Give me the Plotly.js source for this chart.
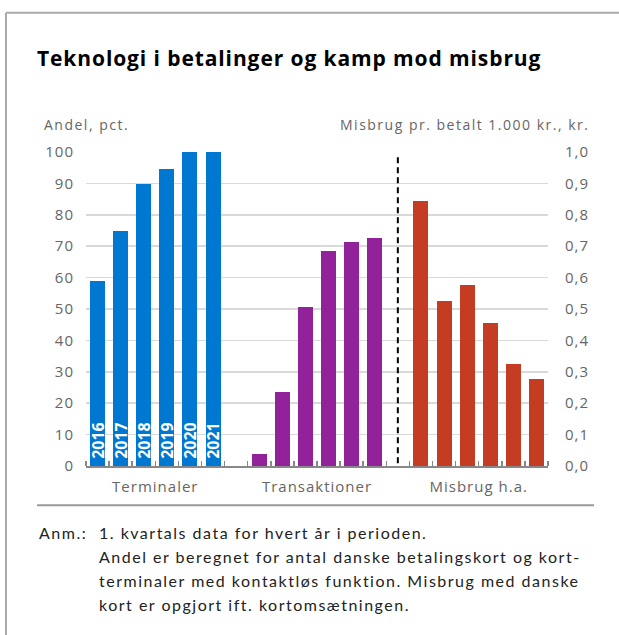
<!DOCTYPE html>
<html>
<head>
<meta charset="utf-8">
<script src="https://cdn.plot.ly/plotly-3.0.1.min.js"></script>
<style>
html,body{margin:0;padding:0;background:#fff;}
#chart{width:619px;height:635px;}
#chart .xtick text, #chart .ytick text, #chart .y2tick text { letter-spacing: 1px; }
text.annotation-text { letter-spacing: 1.5px; }
#chart .gtitle { letter-spacing: 0.9px; }
</style>
</head>
<body>
<div id="chart"></div>
<script>
// ---- data ----
const years = ["2016", "2017", "2018", "2019", "2020", "2021"];
const groupLabels = ["Terminaler", "Transaktioner", "Misbrug h.a."];
const terminaler = [59.0, 74.8, 89.8, 94.5, 100, 100];        // Andel, pct.
const transaktioner = [3.7, 23.5, 50.6, 68.4, 71.3, 72.6];     // Andel, pct.
const misbrug = [0.844, 0.525, 0.576, 0.455, 0.324, 0.276];    // kr. pr. 1.000 kr. (right axis)
const noteLines = [
  "1. kvartals data for hvert år i perioden.",
  "Andel er beregnet for antal danske betalingskort og kort-",
  "terminaler med kontaktløs funktion. Misbrug med danske",
  "kort er opgjort ift. kortomsætningen."
];

// ---- geometry helpers (pixel -> paper) ----
const W = 619, H = 635;
const L = 86, R = 548, T = 152, B = 465.7;
const px = x => (x - L) / (R - L);
const py = y => (B - y) / (B - T);

const n = years.length;
const gap = 1;
const pos = g => years.map((_, i) => g * (n + gap) + i);
const nSlots = 3 * n + 2 * gap;
const centers = [0, 1, 2].map(g => g * (n + gap) + (n - 1) / 2);
const boundaries = [];
for (let k = 0; k <= nSlots; k++) boundaries.push(k - 0.5);
const dividerX = 2 * n + gap; // the empty slot between group 2 and 3

const font = "'Open Sans', sans-serif";
const noteFont = "Lato, 'Open Sans', sans-serif";
const barW = 0.65;

const traces = [
  {
    type: "bar", x: pos(0), y: terminaler, width: barW,
    marker: {color: "#0078D2"},
    text: years.map(y => "\u00a0" + y), textposition: "inside", insidetextanchor: "start",
    textangle: -90, constraintext: "none",
    textfont: {family: font, size: 16, color: "#ffffff", weight: 700},
    hoverinfo: "skip", showlegend: false
  },
  {
    type: "bar", x: pos(1), y: transaktioner, width: barW,
    marker: {color: "#92229A"}, hoverinfo: "skip", showlegend: false
  },
  {
    type: "bar", x: pos(2), y: misbrug, width: barW, yaxis: "y2",
    marker: {color: "#C43D22"}, hoverinfo: "skip", showlegend: false
  }
];

const annotations = [
  {text: "Andel, pct.", xref: "paper", yref: "paper", x: px(42), y: py(125),
   xanchor: "left", yanchor: "middle", showarrow: false,
   font: {family: font, size: 14, color: "#666"}},
  {text: "Misbrug pr. betalt 1.000 kr., kr.", xref: "paper", yref: "paper", x: px(591), y: py(125),
   xanchor: "right", yanchor: "middle", showarrow: false,
   font: {family: font, size: 14, color: "#666"}},
  {text: "Anm.:", xref: "paper", yref: "paper", x: px(37), y: py(532),
   xanchor: "left", yanchor: "middle", showarrow: false,
   font: {family: noteFont, size: 16, color: "#222"}}
];
noteLines.forEach((t, i) => annotations.push({
  text: t, xref: "paper", yref: "paper", x: px(97), y: py(532 + 24 * i),
  xanchor: "left", yanchor: "middle", showarrow: false,
  font: {family: noteFont, size: 16, color: "#222"}
}));

const shapes = [
  // frame
  {type: "line", xref: "paper", yref: "paper", x0: px(6), x1: px(6), y0: py(13), y1: py(H + 2),
   line: {color: "#aaaaaa", width: 2}},
  {type: "line", xref: "paper", yref: "paper", x0: px(6), x1: px(W + 2), y0: py(13), y1: py(13),
   line: {color: "#aaaaaa", width: 2}},
  // separator above note
  {type: "line", xref: "paper", yref: "paper", x0: px(37), x1: px(594), y0: py(505), y1: py(505),
   line: {color: "#999999", width: 2}},
  // dashed divider
  {type: "line", xref: "x", yref: "paper", x0: dividerX, x1: dividerX,
   y0: py(463), y1: py(155), line: {color: "#000", width: 2, dash: "6px,4px"}}
];

const layout = {
  width: W, height: H,
  margin: {l: L, r: W - R, t: T, b: H - B},
  paper_bgcolor: "#fff", plot_bgcolor: "#fff",
  separators: ",.",
  bargap: 0, barmode: "overlay",
  font: {family: font, size: 15, color: "#666"},
  title: {
    text: "Teknologi i betalinger og kamp mod misbrug",
    xref: "container", yref: "container", x: 37 / W, y: 1 - 59 / H,
    xanchor: "left", yanchor: "middle",
    font: {family: font, size: 21, color: "#000", weight: 700}
  },
  xaxis: {
    range: [-0.5, nSlots - 0.5], tickvals: centers, ticktext: groupLabels,
    ticks: "", showgrid: false, zeroline: false,
    showline: true, linecolor: "#888", linewidth: 1.5,
    ticklabelstandoff: 6,
    tickfont: {family: font, size: 15, color: "#666"},
    minor: {tickvals: boundaries, ticks: "inside", ticklen: 5, tickcolor: "#888", tickwidth: 1.5, showgrid: false},
    fixedrange: true
  },
  yaxis: {
    range: [0, 100], dtick: 10, showgrid: true, gridcolor: "#d9d9d9", gridwidth: 1.5,
    zeroline: false, showline: false, ticks: "", ticklabelstandoff: 11,
    tickfont: {family: font, size: 15, color: "#666"}, fixedrange: true
  },
  yaxis2: {
    range: [0, 1], dtick: 0.1, tickformat: ".1f", overlaying: "y", side: "right",
    showgrid: false, zeroline: false, showline: false, ticks: "", ticklabelstandoff: 16,
    tickfont: {family: font, size: 15, color: "#666"}, fixedrange: true
  },
  annotations: annotations,
  shapes: shapes
};

Plotly.newPlot("chart", traces, layout, {displayModeBar: false, staticPlot: true});
</script>
</body>
</html>
